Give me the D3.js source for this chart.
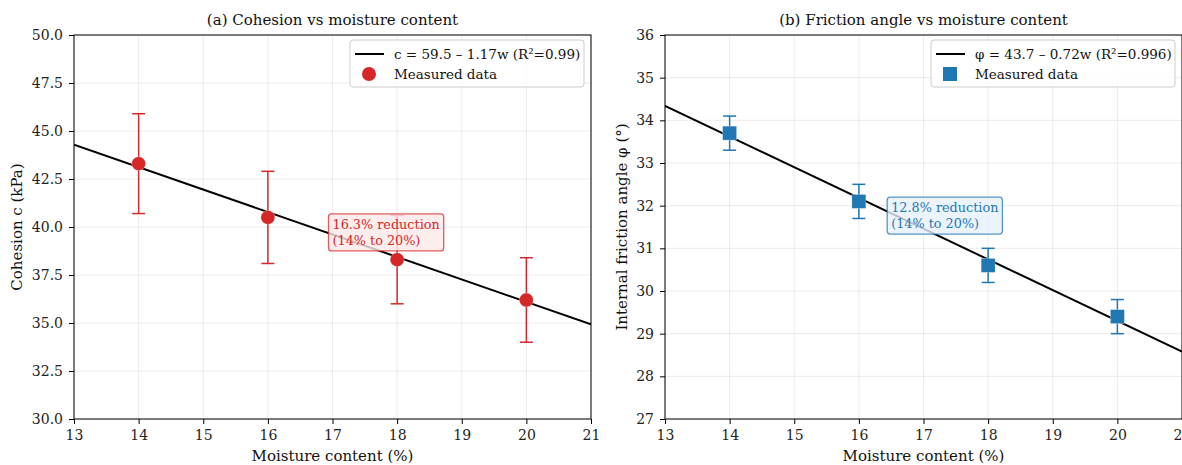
<!DOCTYPE html>
<html>
<head>
<meta charset="utf-8">
<script src="https://cdn.jsdelivr.net/npm/d3@7"></script>
<style>
  html, body { margin: 0; padding: 0; background: #fff; }
  svg { display: block; font-family: "DejaVu Serif", serif; }
</style>
</head>
<body>
<svg id="chart" width="1182" height="465"></svg>
<script>
// Moisture content of the test specimens (%)
const moisture = [14, 16, 18, 20];

// Cohesion (kPa) with standard deviation
const cohesion = [43.3, 40.5, 38.3, 36.2];
const cohesionErr = [2.6, 2.4, 2.3, 2.2];

// Internal friction angle (deg) with standard deviation
const friction = [33.7, 32.1, 30.6, 29.4];
const frictionErr = [0.4, 0.4, 0.4, 0.4];

// Linear fits
const cohesionFit = { a: 59.5, b: -1.17 };
const frictionFit = { a: 43.7, b: -0.72 };

const xTicks = [13, 14, 15, 16, 17, 18, 19, 20, 21];
const cohesionTicks = [30, 32.5, 35, 37.5, 40, 42.5, 45, 47.5, 50];
const frictionTicks = [27, 28, 29, 30, 31, 32, 33, 34, 35, 36];

const RED = "#d62728";
const BLUE = "#1f77b4";

const svg = d3.select("#chart");

function panel(cfg) {
  const x = d3.scaleLinear().domain([13, 21]).range([cfg.left, cfg.left + 517]);
  const y = d3.scaleLinear().domain(cfg.yDomain).range([419, 35]);
  const g = svg.append("g");

  // clip for plot contents
  const clipId = "clip-" + cfg.id;
  svg.append("clipPath").attr("id", clipId)
    .append("rect").attr("x", x.range()[0]).attr("y", 35)
    .attr("width", 517).attr("height", 384);

  // grid
  const grid = g.append("g").attr("stroke", "#b0b0b0").attr("stroke-opacity", 0.3).attr("stroke-width", 0.8);
  grid.selectAll(".gx").data(xTicks).join("line")
    .attr("x1", d => x(d)).attr("x2", d => x(d)).attr("y1", 35).attr("y2", 419);
  grid.selectAll(".gy").data(cfg.yTicks).join("line")
    .attr("x1", x.range()[0]).attr("x2", x.range()[1]).attr("y1", d => y(d)).attr("y2", d => y(d));

  const plot = g.append("g").attr("clip-path", `url(#${clipId})`);

  // fit line
  plot.append("line")
    .attr("x1", x(13)).attr("y1", y(cfg.fit.a + cfg.fit.b * 13))
    .attr("x2", x(21)).attr("y2", y(cfg.fit.a + cfg.fit.b * 21))
    .attr("stroke", "#000").attr("stroke-width", 2);

  // annotation box
  const ann = g.append("g");
  const tx = x(cfg.ann.x), ty = y(cfg.ann.y);
  const t = ann.append("text").attr("x", tx).attr("y", ty)
    .attr("font-size", 12.8).attr("fill", cfg.color);
  t.append("tspan").attr("x", tx).attr("dy", 0).text(cfg.ann.lines[0]);
  t.append("tspan").attr("x", tx).attr("dy", 16).text(cfg.ann.lines[1]);
  const bb = t.node().getBBox();
  ann.insert("rect", "text")
    .attr("x", bb.x - 4).attr("y", bb.y - 3)
    .attr("width", bb.width + 8).attr("height", bb.height + 6)
    .attr("rx", 3)
    .attr("fill", cfg.annFill).attr("fill-opacity", 0.8)
    .attr("stroke", cfg.color).attr("stroke-opacity", 0.75).attr("stroke-width", 1.3);

  // error bars
  const eb = plot.append("g").attr("stroke", cfg.color).attr("stroke-width", 1.5);
  moisture.forEach((m, i) => {
    const v = cfg.values[i], e = cfg.errs[i];
    eb.append("line").attr("x1", x(m)).attr("x2", x(m)).attr("y1", y(v - e)).attr("y2", y(v + e));
    [v - e, v + e].forEach(c => eb.append("line")
      .attr("x1", x(m) - 6.5).attr("x2", x(m) + 6.5).attr("y1", y(c)).attr("y2", y(c)));
  });

  // markers
  const mk = plot.append("g");
  moisture.forEach((m, i) => {
    const cx = x(m), cy = y(cfg.values[i]);
    if (cfg.marker === "circle") {
      mk.append("circle").attr("cx", cx).attr("cy", cy).attr("r", 7)
        .attr("fill", cfg.color).attr("stroke", "#fff").attr("stroke-opacity", 0.5).attr("stroke-width", 0.6);
    } else {
      mk.append("rect").attr("x", cx - 7).attr("y", cy - 7).attr("width", 14).attr("height", 14)
        .attr("fill", cfg.color).attr("stroke", "#fff").attr("stroke-opacity", 0.5).attr("stroke-width", 0.6);
    }
  });

  // axes
  const xa = g.append("g").attr("transform", "translate(0,419)")
    .call(d3.axisBottom(x).tickValues(xTicks).tickFormat(d3.format("d")).tickSize(5).tickPadding(6));
  const ya = g.append("g").attr("transform", `translate(${x.range()[0]},0)`)
    .call(d3.axisLeft(y).tickValues(cfg.yTicks).tickFormat(cfg.yFormat).tickSize(5).tickPadding(6));
  [xa, ya].forEach(a => {
    a.select(".domain").remove();
    a.selectAll("text").attr("font-size", 14).attr("font-family", "DejaVu Serif").attr("fill", "#222");
    a.selectAll("line").attr("stroke", "#000");
  });
  // frame
  g.append("rect").attr("x", x.range()[0]).attr("y", 35).attr("width", 517).attr("height", 384)
    .attr("fill", "none").attr("stroke", "#000").attr("stroke-width", 1);

  // titles and labels
  g.append("text").attr("x", x(17)).attr("y", 25).attr("text-anchor", "middle")
    .attr("font-size", 15).attr("fill", "#111").text(cfg.title);
  g.append("text").attr("x", x(17)).attr("y", 461).attr("text-anchor", "middle")
    .attr("font-size", 15).attr("fill", "#111").text("Moisture content (%)");
  g.append("text").attr("transform", `translate(${cfg.left - cfg.ylabOffset},227) rotate(-90)`)
    .attr("text-anchor", "middle").attr("font-size", 15).attr("fill", "#111").text(cfg.ylabel);

  // legend
  const lx = x.range()[1] - 7 - cfg.legW, ly = 40;
  const lg = g.append("g");
  lg.append("rect").attr("x", lx).attr("y", ly).attr("width", cfg.legW).attr("height", 47).attr("rx", 3)
    .attr("fill", "#fff").attr("fill-opacity", 0.8).attr("stroke", "#ccc");
  lg.append("line").attr("x1", lx + 5).attr("x2", lx + 34).attr("y1", ly + 14).attr("y2", ly + 14)
    .attr("stroke", "#000").attr("stroke-width", 2);
  lg.append("text").attr("x", lx + 44).attr("y", ly + 19).attr("font-size", 13.5).attr("fill", "#111").text(cfg.legLabel);
  const mx = lx + 19, my = ly + 34;
  lg.append("line").attr("x1", mx).attr("x2", mx).attr("y1", my - 6).attr("y2", my + 6)
    .attr("stroke", cfg.color).attr("stroke-width", 1.5);
  if (cfg.marker === "circle") {
    lg.append("circle").attr("cx", mx).attr("cy", my).attr("r", 7).attr("fill", cfg.color);
  } else {
    lg.append("rect").attr("x", mx - 7).attr("y", my - 7).attr("width", 14).attr("height", 14).attr("fill", cfg.color);
  }
  lg.append("text").attr("x", lx + 44).attr("y", ly + 39).attr("font-size", 13.5).attr("fill", "#111").text("Measured data");
}

panel({
  id: "a", left: 74, yDomain: [30, 50], yTicks: cohesionTicks, yFormat: d3.format(".1f"),
  values: cohesion, errs: cohesionErr, fit: cohesionFit, color: RED, marker: "circle",
  title: "(a) Cohesion vs moisture content", ylabel: "Cohesion c (kPa)", ylabOffset: 52,
  legLabel: "c = 59.5 – 1.17w (R²=0.99)", legW: 234,
  ann: { x: 17, y: 39.9, lines: ["16.3% reduction", "(14% to 20%)"] }, annFill: "#fde9e9"
});

panel({
  id: "b", left: 665, yDomain: [27, 36], yTicks: frictionTicks, yFormat: d3.format("d"),
  values: friction, errs: frictionErr, fit: frictionFit, color: BLUE, marker: "square",
  title: "(b) Friction angle vs moisture content", ylabel: "Internal friction angle φ (°)", ylabOffset: 38,
  legLabel: "φ = 43.7 – 0.72w (R²=0.996)", legW: 244,
  ann: { x: 16.5, y: 31.85, lines: ["12.8% reduction", "(14% to 20%)"] }, annFill: "#e6f0fa"
});
</script>
</body>
</html>
